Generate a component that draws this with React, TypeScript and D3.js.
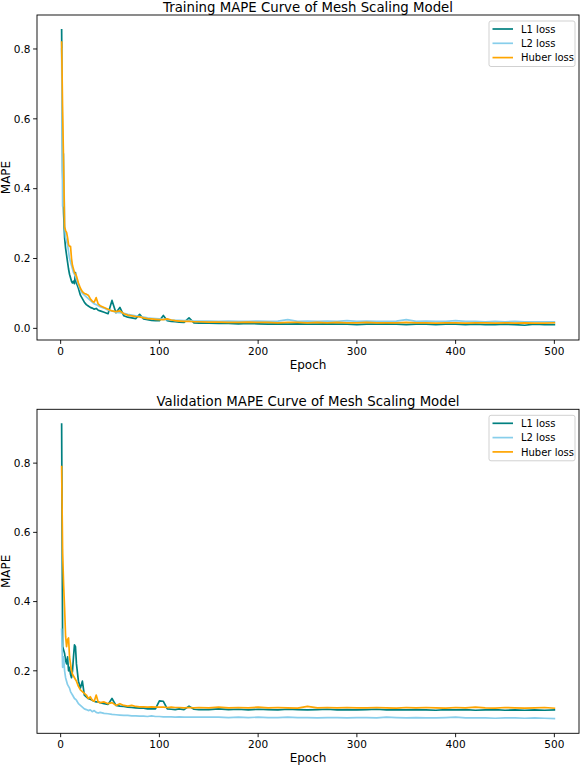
import React from 'react';
import * as d3 from 'd3';

const W = 581, H = 765;
const LEFT = 37, RIGHT = 579;
const FONT = 'DejaVu Sans, sans-serif';

// sampled epochs (dense at the start, sparse in the flat tail)
const epochs = [
  1, 2, 3, 4, 5, 6, 7, 8, 9, 10, 11, 12, 13, 14, 15, 16,
  18, 20, 22, 24, 26, 28, 30, 32, 34, 36, 38, 40,
  44, 48, 52, 56, 60, 64, 68, 72, 76, 80, 84, 88, 92, 96, 100,
  104, 108, 112, 116, 120, 125, 130, 135, 140,
  150, 160, 170, 180, 190, 200, 210, 220, 230, 240, 250, 260, 270, 280, 290, 300,
  310, 320, 330, 340, 350, 360, 370, 380, 390, 400, 410, 420, 430, 440, 450, 460, 470, 480, 490, 500,
];

const seriesNames = ['L1 loss', 'L2 loss', 'Huber loss'];
const seriesColors = ['#008080', '#87ceeb', '#ffa500'];

// Training MAPE
const trainL1 = [
  0.855, 0.45, 0.33, 0.26, 0.23, 0.21, 0.19, 0.17, 0.155, 0.145, 0.135, 0.13, 0.135, 0.128, 0.16, 0.13,
  0.115, 0.095, 0.085, 0.075, 0.068, 0.064, 0.06, 0.058, 0.055, 0.057, 0.052, 0.05,
  0.046, 0.042, 0.08, 0.045, 0.06, 0.036, 0.032, 0.03, 0.028, 0.04, 0.027, 0.025, 0.023, 0.022, 0.022,
  0.037, 0.022, 0.02, 0.019, 0.018, 0.017, 0.03, 0.016, 0.015,
  0.015, 0.014, 0.014, 0.013, 0.014, 0.013, 0.012, 0.013, 0.012, 0.013, 0.012, 0.012, 0.013, 0.012, 0.012, 0.011,
  0.012, 0.012, 0.013, 0.012, 0.011, 0.012, 0.012, 0.011, 0.012, 0.012, 0.011, 0.012, 0.011, 0.011, 0.012, 0.011, 0.009, 0.012, 0.011, 0.011,
];
const trainL2 = [
  0.8, 0.35, 0.5, 0.3, 0.26, 0.25, 0.24, 0.22, 0.2, 0.19, 0.18, 0.17, 0.16, 0.155, 0.15, 0.14,
  0.125, 0.11, 0.1, 0.095, 0.09, 0.085, 0.08, 0.075, 0.07, 0.068, 0.065, 0.062,
  0.058, 0.052, 0.05, 0.046, 0.045, 0.043, 0.04, 0.038, 0.036, 0.034, 0.032, 0.03, 0.029, 0.028, 0.027,
  0.026, 0.025, 0.024, 0.023, 0.023, 0.022, 0.022, 0.021, 0.021,
  0.021, 0.02, 0.021, 0.02, 0.02, 0.021, 0.02, 0.021, 0.025, 0.02, 0.021, 0.02, 0.021, 0.02, 0.022, 0.02,
  0.021, 0.02, 0.02, 0.021, 0.025, 0.02, 0.021, 0.02, 0.02, 0.022, 0.02, 0.02, 0.019, 0.02, 0.019, 0.02, 0.019, 0.019, 0.019, 0.019,
];
const trainHuber = [
  0.82, 0.62, 0.47, 0.29, 0.28, 0.275, 0.26, 0.24, 0.235, 0.235, 0.2, 0.18, 0.17, 0.16, 0.155, 0.15,
  0.13, 0.115, 0.105, 0.1, 0.098, 0.095, 0.085, 0.078, 0.075, 0.088, 0.07, 0.065,
  0.06, 0.055, 0.05, 0.048, 0.05, 0.042, 0.038, 0.036, 0.034, 0.033, 0.03, 0.028, 0.027, 0.026, 0.025,
  0.025, 0.027, 0.024, 0.022, 0.021, 0.02, 0.02, 0.019, 0.019,
  0.018, 0.018, 0.017, 0.017, 0.018, 0.017, 0.017, 0.016, 0.017, 0.017, 0.016, 0.017, 0.016, 0.017, 0.016, 0.016,
  0.017, 0.016, 0.016, 0.016, 0.017, 0.016, 0.016, 0.015, 0.016, 0.016, 0.015, 0.016, 0.016, 0.015, 0.016, 0.015, 0.016, 0.015, 0.015, 0.016,
];

// Validation MAPE
const valL1 = [
  0.913, 0.27, 0.26, 0.25, 0.23, 0.22, 0.24, 0.2, 0.21, 0.19, 0.18, 0.2, 0.24, 0.275, 0.27, 0.22,
  0.17, 0.15, 0.17, 0.13, 0.125, 0.12, 0.118, 0.115, 0.112, 0.11, 0.11, 0.108,
  0.105, 0.103, 0.12, 0.1, 0.098, 0.097, 0.095, 0.094, 0.093, 0.092, 0.092, 0.09, 0.091, 0.09, 0.113,
  0.112, 0.09, 0.089, 0.088, 0.09, 0.088, 0.098, 0.089, 0.088,
  0.088, 0.09, 0.088, 0.089, 0.087, 0.089, 0.088, 0.087, 0.089, 0.088, 0.087, 0.088, 0.089, 0.087, 0.088, 0.087,
  0.088, 0.089, 0.087, 0.088, 0.087, 0.088, 0.087, 0.086, 0.088, 0.087, 0.088, 0.086, 0.087, 0.088, 0.086, 0.087, 0.086, 0.087, 0.086, 0.087,
];
const valL2 = [
  0.32, 0.21, 0.24, 0.2, 0.18, 0.17, 0.16, 0.155, 0.15, 0.14, 0.135, 0.13, 0.125, 0.12, 0.118, 0.115,
  0.105, 0.1, 0.095, 0.09, 0.088, 0.085, 0.087, 0.082, 0.085, 0.08, 0.078, 0.08,
  0.077, 0.076, 0.074, 0.073, 0.072, 0.071, 0.071, 0.07, 0.07, 0.069, 0.069, 0.068, 0.07, 0.068, 0.068,
  0.067, 0.067, 0.067, 0.066, 0.067, 0.066, 0.066, 0.066, 0.066,
  0.066, 0.066, 0.065, 0.066, 0.065, 0.066, 0.065, 0.065, 0.066, 0.065, 0.065, 0.064, 0.065, 0.065, 0.064, 0.065,
  0.065, 0.064, 0.066, 0.065, 0.064, 0.065, 0.064, 0.064, 0.065, 0.066, 0.064, 0.064, 0.064, 0.063, 0.064, 0.064, 0.063, 0.064, 0.063, 0.062,
];
const valHuber = [
  0.79, 0.54, 0.45, 0.38, 0.3, 0.27, 0.29, 0.295, 0.24, 0.22, 0.2, 0.19, 0.185, 0.18, 0.175, 0.17,
  0.155, 0.145, 0.14, 0.135, 0.13, 0.12, 0.125, 0.115, 0.112, 0.13, 0.11, 0.108,
  0.11, 0.105, 0.108, 0.1, 0.105, 0.1, 0.098, 0.1, 0.097, 0.096, 0.096, 0.095, 0.096, 0.095, 0.095,
  0.095, 0.094, 0.095, 0.094, 0.094, 0.093, 0.094, 0.093, 0.094,
  0.093, 0.095, 0.093, 0.094, 0.093, 0.095, 0.093, 0.094, 0.093, 0.092, 0.097, 0.093, 0.094, 0.093, 0.094, 0.093,
  0.093, 0.094, 0.093, 0.092, 0.094, 0.093, 0.094, 0.093, 0.092, 0.094, 0.093, 0.095, 0.093, 0.092, 0.094, 0.093, 0.092, 0.093, 0.094, 0.092,
];

const xTicks = [0, 100, 200, 300, 400, 500];

type PanelProps = {
  title: string;
  data: number[][];
  top: number;
  bottom: number;
};

function Panel({ title, data, top, bottom }: PanelProps) {
  const [xMin, xMax] = d3.extent(epochs) as [number, number];
  const xPad = (xMax - xMin) * 0.05;
  const x = d3.scaleLinear().domain([xMin - xPad, xMax + xPad]).range([LEFT, RIGHT]);

  const all = data.flat();
  const yMin = d3.min(all) as number, yMax = d3.max(all) as number;
  const yPad = (yMax - yMin) * 0.05;
  const y = d3.scaleLinear().domain([yMin - yPad, yMax + yPad]).range([bottom, top]);
  const yTicks = y.ticks(5).filter(t => t >= y.domain()[0] && t <= y.domain()[1]);

  const line = d3.line<number>().x((_, i) => x(epochs[i])).y(d => y(d));
  const midX = (LEFT + RIGHT) / 2;
  const midY = (top + bottom) / 2;
  const fmt = d3.format('.1f');

  // legend box
  const lgX = 489, lgY = top + 6, lgW = 86, lgH = 45.5;

  return (
    <g fontFamily={FONT}>
      <text x={midX} y={top - 3} textAnchor="middle" fontSize={13.3} fill="#000">{title}</text>
      <defs>
        <clipPath id={`clip-${top}`}>
          <rect x={LEFT} y={top} width={RIGHT - LEFT} height={bottom - top} />
        </clipPath>
      </defs>
      <g clipPath={`url(#clip-${top})`}>
        {data.map((vals, k) => (
          <path key={k} d={line(vals) || ''} fill="none" stroke={seriesColors[k]}
            strokeWidth={1.7} strokeLinejoin="round" strokeLinecap="square" />
        ))}
      </g>
      <rect x={LEFT} y={top} width={RIGHT - LEFT} height={bottom - top} fill="none" stroke="#000" strokeWidth={0.9} />
      {xTicks.map(t => (
        <g key={t}>
          <line x1={x(t)} x2={x(t)} y1={bottom} y2={bottom + 3.9} stroke="#000" strokeWidth={0.9} />
          <text x={x(t)} y={bottom + 15} textAnchor="middle" fontSize={10.5}>{t}</text>
        </g>
      ))}
      {yTicks.map(t => (
        <g key={t}>
          <line x1={LEFT - 3.9} x2={LEFT} y1={y(t)} y2={y(t)} stroke="#000" strokeWidth={0.9} />
          <text x={LEFT - 6.5} y={y(t) + 3.8} textAnchor="end" fontSize={10.5}>{fmt(t)}</text>
        </g>
      ))}
      <text x={midX} y={bottom + 29} textAnchor="middle" fontSize={12}>Epoch</text>
      <text transform={`translate(${9.5},${midY}) rotate(-90)`} textAnchor="middle" fontSize={12}>MAPE</text>
      <rect x={lgX} y={lgY} width={lgW} height={lgH} rx={2} fill="#fff" fillOpacity={0.8} stroke="#cccccc" strokeWidth={0.9} />
      {seriesNames.map((name, k) => {
        const cy = lgY + 8 + k * 14.3;
        return (
          <g key={name}>
            <line x1={lgX + 3.5} x2={lgX + 24} y1={cy} y2={cy} stroke={seriesColors[k]} strokeWidth={1.7} />
            <text x={lgX + 32} y={cy + 3.6} fontSize={10}>{name}</text>
          </g>
        );
      })}
    </g>
  );
}

export default function App() {
  return (
    <svg width={W} height={H} style={{ position: 'absolute', left: 0, top: 0, background: '#fff' }}>
      <Panel title="Training MAPE Curve of Mesh Scaling Model" data={[trainL1, trainL2, trainHuber]} top={15} bottom={340} />
      <Panel title="Validation MAPE Curve of Mesh Scaling Model" data={[valL1, valL2, valHuber]} top={409.3} bottom={733.3} />
    </svg>
  );
}
